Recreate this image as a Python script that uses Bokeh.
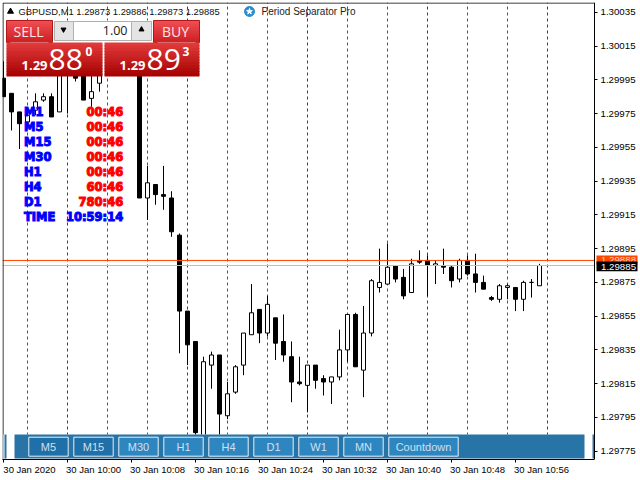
from bokeh.plotting import figure
from bokeh.embed import file_html
from bokeh.resources import INLINE
from bokeh.core.properties import value
from bokeh.models import Range1d, FixedTicker, PrintfTickFormatter, LinearAxis

# --- Chart data ---
symbol_line = "GBPUSD,M1  1.29873 1.29886 1.29873 1.29885"
minutes = list(range(-8, 60))  # minutes after 10:00
opens = [1.29996,1.29987,1.29976,1.29970,1.29977,1.29983,1.29985,1.29976,1.30000,1.29998,1.30004,1.29984,1.29993,
         1.30005,1.30002,1.30013,1.30018,1.30012,1.29925,1.29933,1.29927,1.29925,1.29903,1.29858,1.29840,1.29776,
         1.29826,1.29832,1.29796,1.29810,1.29826,1.29844,1.29859,1.29845,1.29854,1.29840,1.29831,1.29816,1.29814,
         1.29826,1.29818,1.29816,1.29819,1.29835,1.29856,1.29823,1.29845,1.29872,1.29874,1.29885,1.29878,1.29869,
         1.29888,1.29888,1.29885,1.29885,1.29884,1.29877,1.29888,1.29880,1.29875,1.29866,1.29865,1.29872,1.29872,
         1.29865,1.29875,1.29873]
highs = [1.30006,1.29987,1.29976,1.29978,1.29987,1.29987,1.29987,1.30015,1.30010,1.30003,1.30006,1.30000,1.30008,
         1.30012,1.30016,1.30022,1.30024,1.30014,1.29944,1.29933,1.29944,1.29929,1.29904,1.29858,1.29840,1.29831,
         1.29834,1.29832,1.29816,1.29826,1.29845,1.29874,1.29859,1.29867,1.29854,1.29856,1.29840,1.29831,1.29826,
         1.29826,1.29820,1.29819,1.29847,1.29856,1.29857,1.29861,1.29877,1.29895,1.29898,1.29885,1.29883,1.29889,
         1.29894,1.29891,1.29888,1.29895,1.29885,1.29889,1.29891,1.29892,1.29879,1.29867,1.29874,1.29874,1.29872,
         1.29876,1.29877,1.29886]
lows = [1.29985,1.29965,1.29954,1.29968,1.29974,1.29982,1.29973,1.29976,1.29975,1.29994,1.29983,1.29979,1.29988,
        1.30000,1.30000,1.30008,1.30010,1.29925,1.29912,1.29921,1.29918,1.29902,1.29833,1.29826,1.29781,1.29770,
        1.29812,1.29782,1.29794,1.29809,1.29820,1.29844,1.29839,1.29843,1.29829,1.29828,1.29804,1.29814,1.29798,
        1.29812,1.29808,1.29803,1.29817,1.29828,1.29825,1.29807,1.29843,1.29869,1.29874,1.29875,1.29865,1.29869,
        1.29886,1.29867,1.29874,1.29880,1.29872,1.29875,1.29879,1.29869,1.29871,1.29864,1.29863,1.29865,1.29858,
        1.29858,1.29866,1.29873]
closes = [1.29985,1.29976,1.29969,1.29974,1.29982,1.29985,1.29973,1.30012,1.30006,1.29996,1.29983,1.29988,1.30005,
          1.30002,1.30013,1.30018,1.30012,1.29925,1.29934,1.29927,1.29926,1.29905,1.29858,1.29838,1.29786,1.29828,
          1.29832,1.29797,1.29809,1.29825,1.29845,1.29857,1.29845,1.29862,1.29839,1.29832,1.29816,1.29815,1.29826,
          1.29817,1.29816,1.29819,1.29835,1.29856,1.29825,1.29845,1.29876,1.29875,1.29884,1.29877,1.29867,1.29886,
          1.29887,1.29885,1.29886,1.29884,1.29876,1.29888,1.29880,1.29875,1.29871,1.29865,1.29873,1.29873,1.29865,
          1.29875,1.29875,1.29885]
bid = 1.29885
ask = 1.29888
price_ticks = [1.30035,1.30015,1.29995,1.29975,1.29955,1.29935,1.29915,1.29895,1.29875,1.29855,1.29835,1.29815,1.29795,1.29775]
time_ticks = [-8, 0, 8, 16, 24, 32, 40, 48, 56]
time_labels = ["30 Jan 2020","30 Jan 10:00","30 Jan 10:08","30 Jan 10:16","30 Jan 10:24","30 Jan 10:32","30 Jan 10:40","30 Jan 10:48","30 Jan 10:56"]
sep_grey = [-5, 5, 10, 20, 25, 35, 40, 50, 55]
sep_red = [0, 15, 30, 45, 60]
periods = ["M1","M5","M15","M30","H1","H4","D1"]
countdowns = ["00:46","00:46","00:46","00:46","00:46","60:46","780:46"]
clock = "10:59:14"
buttons = ["M5","M15","M30","H1","H4","D1","W1","MN","Countdown"]

chart_left = -8.125
chart_right = 65.875

# the frame fills the width; the price axis stands at chart_right, with its tags beside it
p = figure(width=640, height=480, frame_width=638, frame_height=457,
           min_border_left=2, min_border_right=0, min_border_top=2, min_border_bottom=21,
           x_range=Range1d(chart_left, chart_left + 638 / 8), y_axis_location=None,
           y_range=Range1d(1.29775-0.0000492, 1.30035+0.0000581),
           output_backend="svg", toolbar_location=None, background_fill_color="white",
           border_fill_color="white")
p.grid.visible = False
p.outline_line_color = None

TICK_FONT = "Liberation Sans"
price_axis = LinearAxis(ticker=FixedTicker(ticks=price_ticks), formatter=PrintfTickFormatter(format="%.5f"),
                        fixed_location=chart_right, major_tick_in=0, major_tick_out=3,
                        minor_tick_line_color=None, axis_line_color="black", major_tick_line_color="black",
                        major_label_text_color="black", major_label_text_font=TICK_FONT,
                        major_label_text_font_size="9.7px", major_label_standoff=3)
p.add_layout(price_axis, "right")

p.xaxis.ticker = FixedTicker(ticks=time_ticks)
p.xaxis.bounds = (chart_left, chart_right)
p.xaxis.major_label_overrides = {t: "" for t in time_ticks}
p.xaxis.major_label_text_font_size = "1px"
p.xaxis.major_label_standoff = 0
p.xaxis.major_tick_in = 0
p.xaxis.major_tick_out = 3
p.xaxis.minor_tick_line_color = None
p.xaxis.axis_line_color = "black"
p.xaxis.major_tick_line_color = "black"

# second axis carries the date labels, shifted so that each starts at its tick
label_shift = 3.25
label_ticks = [t + label_shift for t in time_ticks]
date_axis = LinearAxis(ticker=FixedTicker(ticks=label_ticks),
                       major_label_overrides=dict(zip(label_ticks, time_labels)),
                       axis_line_color=None, major_tick_line_color=None, minor_tick_line_color=None,
                       major_tick_in=0, major_tick_out=0, major_label_standoff=1,
                       major_label_text_font=TICK_FONT, major_label_text_font_size="9.5px",
                       major_label_text_color="black")
p.add_layout(date_axis, "below")

# separators
p.segment(sep_grey, p.y_range.start, sep_grey, p.y_range.end, line_color="#555555", line_dash="3 3", line_width=1)
p.segment(sep_red, p.y_range.start, sep_red, p.y_range.end, line_color="#d40000", line_dash="3 3", line_width=1)

# candles
p.segment(minutes, highs, minutes, lows, line_color="black", line_width=1)
ux = [m for m, o, c in zip(minutes, opens, closes) if c >= o]
ut = [c for o, c in zip(opens, closes) if c >= o]
ub = [o for o, c in zip(opens, closes) if c >= o]
dx = [m for m, o, c in zip(minutes, opens, closes) if c < o]
dt = [o for o, c in zip(opens, closes) if c < o]
db = [c for o, c in zip(opens, closes) if c < o]
p.vbar(ux, 0.5, ub, ut, fill_color="white", line_color="black", line_width=1)
p.vbar(dx, 0.5, db, dt, fill_color="black", line_color="black", line_width=1)

# price lines
p.segment(chart_left, bid, chart_right, bid, line_color="#c0c0c0", line_width=1)
p.segment(chart_left, ask, chart_right, ask, line_color="#ff4500", line_width=1)

# overlay widgets: a pixel-space range pair
p.extra_x_ranges = {"px": Range1d(2, 640)}
p.extra_y_ranges = {"px": Range1d(459, 2)}
PX = dict(x_range_name="px", y_range_name="px")

def box(l, r, t, b, fill, line=None, lw=1):
    p.quad(left=[l], right=[r], top=[t], bottom=[b], fill_color=fill, line_color=line, line_width=lw, **PX)

def txt(x, y, s, color, size, font="Liberation Sans", style="normal", align="left", outline=None):
    p.text([x], [y], text=[s], text_color=color, text_font=value(font), text_font_size=size,
           text_font_style=style, text_align=align, text_baseline="middle", text_outline_color=outline, **PX)

def hex_mix(a, b, t):
    return "#" + "".join("%02x" % round(a[i] + (b[i] - a[i]) * t) for i in range(3))

def gradient(l, r, t, b, c0, c1, n=12):
    for i in range(n):
        bottom = t + (b - t) * (i + 1) / n
        box(l, r, t + (b - t) * i / n, bottom + (1 if i < n - 1 else 0), hex_mix(c0, c1, (i + 0.5) / n))

# frame edges
p.segment([2.5, 2.5], [2.5, 2.5], [594, 2.5], [2.5, 459], line_color="black", line_width=1, **PX)

# price tags
box(596, 637, 255, 264, "#ff4500")
txt(600.5, 259.5, "%.5f" % ask, "#ffd0c0", "9.7px")
box(596, 637, 261, 270.7, "black")
txt(600.5, 266, "%.5f" % bid, "white", "9.7px")

# header
p.scatter([10], [11], marker="triangle", size=6, color="black", **PX)
txt(18, 11, symbol_line, "#111111", "9.4px")
p.scatter([249], [11], marker="circle", size=10, color="#2a8fd0", **PX)
p.scatter([249], [11], marker="star", size=6, color="white", **PX)
txt(261, 11, "Period Separator Pro", "#222222", "10px")

# trading panel
box(52, 153, 20, 43, "white")
gradient(6, 52, 20, 42, (240, 80, 85), (205, 30, 35))
gradient(153, 199, 20, 42, (240, 80, 85), (205, 30, 35))
box(6, 52, 20, 42, None, "#b01818")
box(153, 199, 20, 42, None, "#b01818")
box(54, 73, 21, 40, "#e4e4e4", "#b0b0b0")
box(73, 131, 21, 40, "white", "#b0b0b0")
box(131, 151, 21, 40, "#e4e4e4", "#b0b0b0")
p.scatter([63], [29], marker="inverted_triangle", size=5, color="black", **PX)
p.scatter([141], [29], marker="triangle", size=5, color="black", **PX)
txt(127, 30, "1.00", "#202020", "12.5px", font="Open Sans", align="right")
gradient(6, 102, 42, 76, (228, 60, 60), (165, 0, 0))
gradient(104, 199, 42, 76, (228, 60, 60), (165, 0, 0))
box(10, 48, 41.5, 42, "#f0b0b0")
box(157, 195, 41.5, 42, "#f0b0b0")
txt(28, 31, "SELL", "#fbe6e6", "14px", font="Open Sans", align="center")
txt(175, 31, "BUY", "#fbe6e6", "14px", font="Open Sans", align="center")
txt(21, 65, "1.29", "white", "13px", font="Open Sans", style="bold")
txt(48, 59, "88", "white", "30px", font="Open Sans")
txt(85, 51, "0", "white", "12px", font="Open Sans", style="bold")
txt(119, 65, "1.29", "white", "13px", font="Open Sans", style="bold")
txt(146, 59, "89", "white", "30px", font="Open Sans")
txt(182, 51, "3", "white", "12px", font="Open Sans", style="bold")

# countdown table
for i, (a, b) in enumerate(zip(periods, countdowns)):
    txt(23.5, 111.5 + 15 * i, a, "#0000ff", "11.5px", font="DejaVu Sans", style="bold", outline="#0000ff")
    txt(122.7, 111.5 + 15 * i, b, "#ff0000", "11.5px", font="DejaVu Sans", style="bold", align="right", outline="#ff0000")
txt(23.5, 216.5, "TIME", "#0000ff", "11.5px", font="DejaVu Sans", style="bold", outline="#0000ff")
txt(122.7, 216.5, clock, "#0000ff", "11.5px", font="DejaVu Sans", style="bold", align="right", outline="#0000ff")

# button bar
box(3, 594, 434, 458.5, "white")
box(4, 6, 434, 458, "#2874a6")
box(14, 584, 434, 458, "#2874a6")
box(592, 594, 434, 458, "#2874a6")
lefts = [28.3, 73.3, 118.3, 163.3, 208.3, 253.3, 298.3, 343.3, 388.3]
rights = [67.7, 112.7, 157.7, 202.7, 247.7, 292.7, 337.7, 382.7, 457.7]
for i, (b, l, r) in enumerate(zip(buttons, lefts, rights)):
    box(l, r, 436.7, 455.7, "#1f6fa8" if i < 2 else "#2e86c1", "#e8f1f7")
    txt((l + r) / 2, 446, b, "#cfe0ee", "11px", align="center")

open("out.html", "w").write(file_html(p, INLINE))
